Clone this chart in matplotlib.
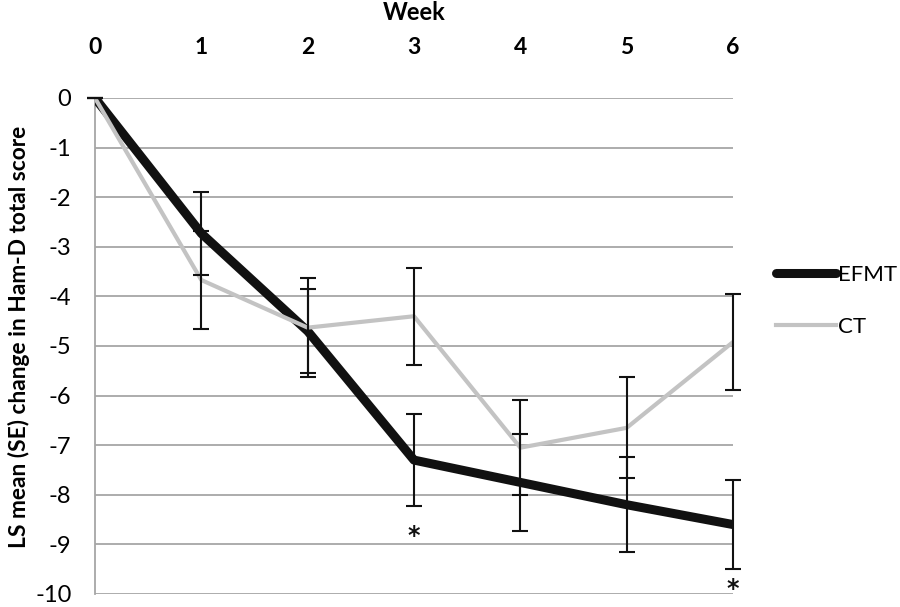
import matplotlib
matplotlib.use('Agg')
import matplotlib.pyplot as plt
import numpy as np

plt.rcParams['font.family'] = ['Lato', 'DejaVu Sans']

EFMT_COLOR = '#111111'
CT_COLOR = '#c3c3c3'
GRID_COLOR = '#a6a6a6'

weeks = [0, 1, 2, 3, 4, 5, 6]
efmt_mean = [0, -2.73, -4.70, -7.30, -7.75, -8.20, -8.60]
efmt_se = [0, 0.84, 0.85, 0.93, 0.97, 0.96, 0.90]
ct_mean = [0, -3.67, -4.63, -4.40, -7.05, -6.65, -4.92]
ct_se = [0, 0.98, 1.00, 0.98, 0.96, 1.02, 0.96]
# weeks with significant difference, marked with an asterisk
signif_weeks = [3, 6]
signif_y = [-8.98, -10.05]
y_ticks = [0, -1, -2, -3, -4, -5, -6, -7, -8, -9, -10]

fig = plt.figure(figsize=(9, 6.07), dpi=100)
ax = fig.add_axes([95/900, 1-594/607, 638/900, 496/607])

ax.plot(weeks, efmt_mean, color=EFMT_COLOR, lw=6.5, label='EFMT', zorder=3)
ax.plot(weeks, ct_mean, color=CT_COLOR, lw=3, label='CT', zorder=4)
for mean, se in [(efmt_mean, efmt_se), (ct_mean, ct_se)]:
    eb = ax.errorbar(weeks, mean, yerr=se, fmt='none', ecolor='#111111',
                     elinewidth=1.5, capsize=6, capthick=1.5, zorder=5)
    for art in eb.lines[1]:
        art.set_clip_on(False)
    for art in eb.lines[2]:
        art.set_clip_on(False)

for w, y in zip(signif_weeks, signif_y):
    ax.text(w, y, '*', ha='center', va='baseline', fontsize=17,
            fontweight='bold', family='DejaVu Sans', color='#111111',
            clip_on=False)

ax.set_xlim(0, 6)
ax.set_ylim(-10, 0)
ax.set_yticks(y_ticks)
ax.set_yticklabels([str(v) for v in y_ticks], fontsize=17)
ax.set_xticks(weeks)
ax.xaxis.tick_top()
ax.xaxis.set_label_position('top')
ax.set_xticklabels([str(w) for w in weeks], fontsize=16.5, fontweight='bold')
ax.tick_params(axis='x', length=0, pad=29)
ax.tick_params(axis='y', length=0, pad=17)
ax.set_xlabel('Week', fontsize=17, fontweight='bold', labelpad=12)
ax.set_ylabel('LS mean (SE) change in Ham-D total score', fontsize=16.4,
              fontweight='bold')
ax.yaxis.set_label_coords(-0.102, 0.518)

ax.grid(axis='y', color=GRID_COLOR, lw=1.3)
ax.set_axisbelow(True)
for side in ['top', 'right', 'bottom']:
    ax.spines[side].set_visible(False)
ax.spines['left'].set_color(GRID_COLOR)
ax.spines['left'].set_linewidth(1.3)

leg = fig.legend(loc='upper left', bbox_to_anchor=(776/900, 1-265/607),
                 frameon=False, fontsize=16, handlelength=2.7,
                 handletextpad=0.1, labelspacing=1.45, borderpad=0,
                 borderaxespad=0)
leg.get_lines()[0].set_solid_capstyle('round')

fig.savefig('out.png', dpi=100)
